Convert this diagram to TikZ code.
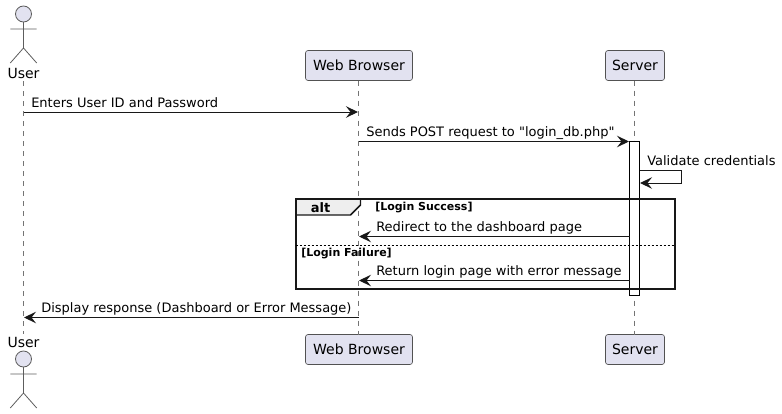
\documentclass[tikz,border=0pt]{standalone}
\usepackage{fontspec}
\setmainfont{DejaVu Sans}
\newfontfamily\msgfont{DejaVu Sans}
\usepackage{tikz}
\usetikzlibrary{positioning,arrows.meta}
\definecolor{partfill}{HTML}{E2E2F0}
\definecolor{partline}{HTML}{181818}
\definecolor{tabfill}{HTML}{EEEEEE}
\tikzset{>={Stealth[length=9pt,width=8.6pt,inset=3.4pt,color=partline]}}
\tikzset{
  part/.style={draw=partline!75,line width=0.5pt,fill=partfill,rounded corners=1.9pt,minimum height=22.5pt,inner xsep=0pt,inner ysep=0pt,font=\fontsize{10.5pt}{12pt}\selectfont},
  life/.style={draw=partline!60,line width=0.5pt,dash pattern=on 3.75pt off 3.75pt},
  msg/.style={draw=partline,line width=0.75pt,->},
  msgtext/.style={inner sep=0pt,anchor=base west,font=\fontsize{9.75pt}{12pt}\selectfont\msgfont},
  guard/.style={inner sep=0pt,anchor=base west,font=\fontsize{8.25pt}{10pt}\selectfont\bfseries},
  stick/.style={draw=partline!70,line width=0.6pt}
}
\newcommand*{\stickman}[2]{%
  \fill[partfill] (#1,#2) circle[radius=8];
  \draw[stick] (#1,#2) circle[radius=8];
  \draw[stick] (#1,#2+8) -- +(0,26) +(-13.2,7) -- +(13.2,7) (#1,#2+34) -- +(-13.2,15) (#1,#2+34) -- +(13.2,15);
}
\begin{document}
\begin{tikzpicture}[x=0.75pt,y=-0.75pt]
\useasboundingbox (0,0) rectangle (782,414);
% Draw participants at top and bottom
\stickman{23.5}{14}
\node[inner sep=0pt,font=\fontsize{10.5pt}{12pt}\selectfont] (usertop) at (23.5,73) {User};
\node[part,minimum width=80.25pt] (webtop) at (359,65.5) {Web Browser};
\node[part,minimum width=44.25pt] (servertop) at (635,65.5) {Server};
\node[inner sep=0pt,font=\fontsize{10.5pt}{12pt}\selectfont] (userbot) at (23.5,342) {User};
\stickman{23.5}{359}
\node[part,minimum width=80.25pt] (webbot) at (359,349.5) {Web Browser};
\node[part,minimum width=44.25pt] (serverbot) at (635,349.5) {Server};
% Draw lifelines
\coordinate (ua) at (23.5,81);
\coordinate (ub) at (23.5,334);
\coordinate (wa) at (358.5,80.5);
\coordinate (wb) at (358.5,334.5);
\coordinate (sa) at (634.5,80.5);
\coordinate (sb) at (634.5,334.5);
\draw[life] (ua) -- (ub);
\draw[life] (wa) -- (wb);
\draw[life] (sa) -- (sb);
% Draw activation bar
\draw[fill=white,line width=0.75pt] (629.5,141.5) coordinate (bara) rectangle (639.5,295.5) coordinate (barb);
% Draw messages
\coordinate (m1a) at (23.5,112);
\coordinate (m1b) at (358,112);
\draw[msg] (m1a) -- (m1b);
\node[msgtext] (m1) at (31,107) {Enters User ID and Password};
\coordinate (m2a) at (358.5,141.5);
\coordinate (m2b) at (629,141.5);
\draw[msg] (m2a) -- (m2b);
\node[msgtext] (m2) at (366,136.5) {Sends POST request to "login\_db.php"};
\coordinate (m3a) at (639.5,170.5);
\coordinate (m3b) at (640,183);
\draw[msg] (m3a) -- (681.5,170.5) -- (681.5,183) -- (m3b);
\node[msgtext] (m3) at (647,165.5) {Validate credentials};
\coordinate (m4a) at (629.5,236.5);
\coordinate (m4b) at (359,236.5);
\draw[msg] (m4a) -- (m4b);
\node[msgtext] (m4) at (376,231.5) {Redirect to the dashboard page};
\coordinate (m5a) at (629.5,280.5);
\coordinate (m5b) at (359,280.5);
\draw[msg] (m5a) -- (m5b);
\node[msgtext] (m5) at (376,275.5) {Return login page with error message};
\coordinate (m6a) at (358.5,317.5);
\coordinate (m6b) at (24,317.5);
\draw[msg] (m6a) -- (m6b);
\node[msgtext] (m6) at (41,312) {Display response (Dashboard or Error Message)};
% Draw alt frame
\fill[tabfill] (295.5,198.5) -- (360.5,198.5) -- (360.5,205) -- (350.5,215) -- (295.5,215) -- cycle;
\draw[line width=1.1pt,draw=partline] (360.5,198.5) -- (360.5,205) -- (350.5,215) -- (295.5,215);
\draw[line width=1.5pt,draw=partline] (295.5,198.5) rectangle (674.5,288.5);
\draw[line width=0.6pt,dash pattern=on 1.5pt off 1.5pt] (295.5,245.5) -- (674.5,245.5);
\node[inner sep=0pt,anchor=base,font=\fontsize{9.75pt}{12pt}\selectfont\bfseries] (alt) at (320.5,212) {alt};
\node[guard] (g1) at (375,210.5) {[Login Success]};
\node[guard] (g2) at (301,256) {[Login Failure]};
\end{tikzpicture}
\end{document}
